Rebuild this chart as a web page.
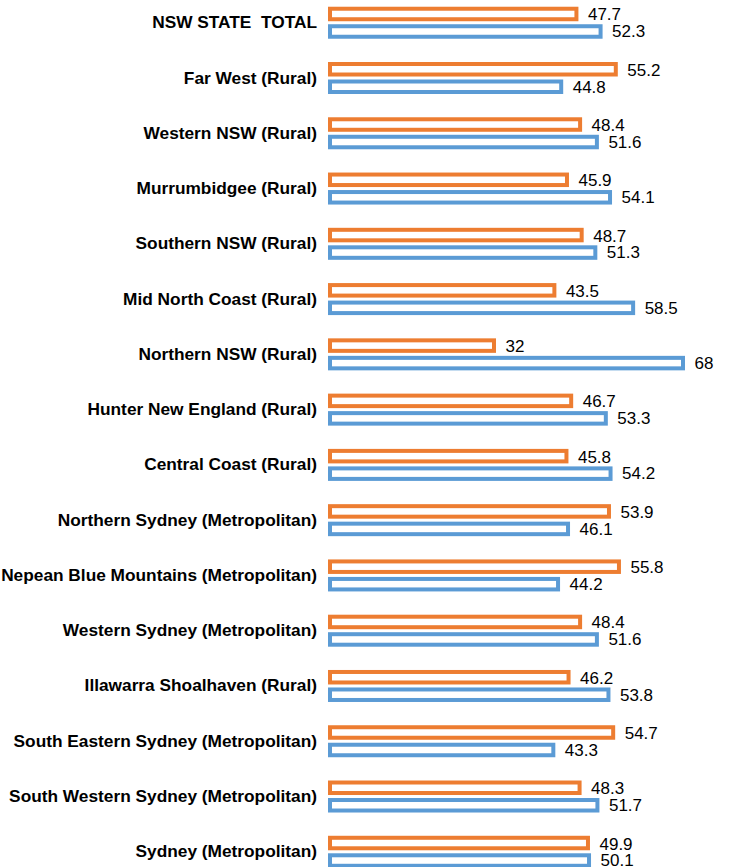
<!DOCTYPE html>
<html>
<head>
<meta charset="utf-8">
<script src="https://cdn.jsdelivr.net/npm/d3@7"></script>
<style>
  html, body { margin: 0; padding: 0; background: #fff; }
  svg text { font-family: "Liberation Sans", Arial, Helvetica, sans-serif; white-space: pre; }
  .cat { font-weight: bold; font-size: 17.3px; fill: #000; }
  .val { font-size: 17px; fill: #000; }
</style>
</head>
<body>
<div id="chart"></div>
<script>
// categories top to bottom
const categories = [
  "NSW STATE  TOTAL",
  "Far West (Rural)",
  "Western NSW (Rural)",
  "Murrumbidgee (Rural)",
  "Southern NSW (Rural)",
  "Mid North Coast (Rural)",
  "Northern NSW (Rural)",
  "Hunter New England (Rural)",
  "Central Coast (Rural)",
  "Northern Sydney (Metropolitan)",
  "Nepean Blue Mountains (Metropolitan)",
  "Western Sydney (Metropolitan)",
  "Illawarra Shoalhaven (Rural)",
  "South Eastern Sydney (Metropolitan)",
  "South Western Sydney (Metropolitan)",
  "Sydney (Metropolitan)"
];
const orangeValues = [47.7, 55.2, 48.4, 45.9, 48.7, 43.5, 32, 46.7, 45.8, 53.9, 55.8, 48.4, 46.2, 54.7, 48.3, 49.9];
const blueValues   = [52.3, 44.8, 51.6, 54.1, 51.3, 58.5, 68, 53.3, 54.2, 46.1, 44.2, 51.6, 53.8, 43.3, 51.7, 50.1];

(function() {
  const width = 756, height = 867;
  const d3r = d3;

  const svg = d3r.select("#chart").append("svg")
      .attr("width", width)
      .attr("height", height);

  // group band, one per category
  const y = d3r.scaleBand()
      .domain(categories)
      .range([-4.9, -4.9 + 55.27 * categories.length])
      .padding(0);

  const x = d3r.scaleLinear()
      .domain([0, 68])
      .range([328, 328 + 68 * 5.25]);

  const series = [
    {values: orangeValues, color: "#ED7D31", offset: -8.75, dy: 6.5},
    {values: blueValues,   color: "#5B9BD5", offset: 8.75,  dy: 5.8}
  ];
  const stroke = 4, barH = 10.5;

  const mid = (c) => y(c) + y.bandwidth() / 2;

  // category labels
  svg.selectAll(".cat")
    .data(categories)
    .enter().append("text")
      .attr("class", "cat")
      .attr("x", 317)
      .attr("y", (d) => mid(d) + 5.5)
      .attr("text-anchor", "end")
      .text((d) => d);

  series.forEach((s) => {
    const rows = categories.map((c, i) => ({c: c, v: s.values[i]}));

    svg.selectAll(null)
      .data(rows)
      .enter().append("rect")
        .attr("x", x(0) + stroke / 2)
        .attr("y", (d) => mid(d.c) + s.offset - barH / 2)
        .attr("width", (d) => x(d.v) - x(0) - stroke)
        .attr("height", barH)
        .style("fill", "#fff")
        .style("stroke", s.color)
        .style("stroke-width", stroke);

    svg.selectAll(null)
      .data(rows)
      .enter().append("text")
        .attr("class", "val")
        .attr("x", (d) => x(d.v) + 9.5)
        .attr("y", (d) => mid(d.c) + s.offset + s.dy)
        .text((d) => d.v);
  });
})();
</script>
</body>
</html>
